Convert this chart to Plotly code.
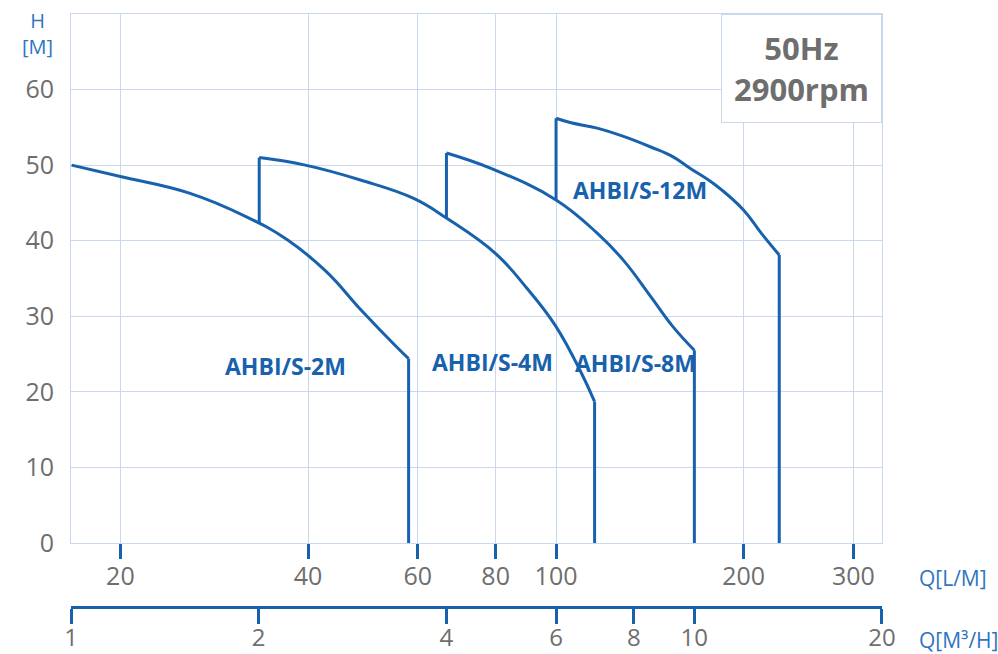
import math
import plotly.graph_objects as go

# ---- data (Q in L/min, H in m) ----
# curve points of each pump, from the top-left start to the right-hand end
q_2m = [16.7, 20.0, 25.8, 31.8, 37.1, 42.8, 48.7, 55.4, 58.0]
h_2m = [50.0, 48.5, 46.3, 43.2, 40.1, 35.9, 30.8, 26.0, 24.4]

q_4m = [33.4, 39.6, 48.7, 59.1, 66.7, 80.0, 89.8, 99.7, 109.8, 115.3]
h_4m = [51.0, 50.0, 48.0, 45.6, 43.0, 38.3, 33.7, 28.8, 22.5, 18.7]

q_8m = [66.7, 79.0, 100.0, 116.4, 128.3, 141.9, 154.1, 166.7]
h_8m = [51.6, 49.5, 45.4, 41.0, 37.4, 32.6, 28.6, 25.5]

q_12m = [100.0, 105.7, 116.4, 128.3, 141.9, 154.1, 164.0, 180.0, 199.7, 213.4, 228.1]
h_12m = [56.2, 55.6, 54.9, 53.8, 52.4, 51.1, 49.6, 47.4, 44.1, 41.0, 38.1]

# head at which each curve's left-hand vertical edge starts (on the previous curve)
riser_from_h = [None, 42.3, 43.0, 45.4]

series_names = ["AHBI/S-2M", "AHBI/S-4M", "AHBI/S-8M", "AHBI/S-12M"]
label_q = [36.8, 79.0, 134.0, 136.5]
label_h = [23.4, 24.0, 23.8, 46.7]

lpm_ticks = [20, 40, 60, 80, 100, 200, 300]
m3h_ticks = [1, 2, 4, 6, 8, 10, 20]
h_ticks = [0, 10, 20, 30, 40, 50, 60]

LPM_PER_M3H = 1000 / 60
q_min_m3h, q_max_m3h = 1, 20
h_max = 70

CURVE = "#1761ad"
GRID = "#c9d7ef"
GRAY = "#6e6e6e"
LBLUE = "#2f74c0"
FONT = "Open Sans"

fig = go.Figure()
line = dict(color=CURVE, width=3)
for q, h, r in zip([q_2m, q_4m, q_8m, q_12m], [h_2m, h_4m, h_8m, h_12m], riser_from_h):
    fig.add_trace(go.Scatter(x=q, y=h, mode="lines", line=dict(line, shape="spline", smoothing=1.2),
                             showlegend=False, hoverinfo="x+y"))
    if r is not None:
        fig.add_trace(go.Scatter(x=[q[0], q[0]], y=[r, h[0]], mode="lines", line=line,
                                 showlegend=False, hoverinfo="skip"))
    fig.add_trace(go.Scatter(x=[q[-1], q[-1]], y=[h[-1], 0], mode="lines", line=line,
                             showlegend=False, hoverinfo="skip"))

# same 12M curve expressed in m3/h so the secondary flow axis is drawn
fig.add_trace(go.Scatter(x=[v / LPM_PER_M3H for v in q_12m], y=h_12m, xaxis="x2", mode="lines",
                         line=dict(width=0), opacity=0, showlegend=False, hoverinfo="skip"))

for name, x, y in zip(series_names, label_q, label_h):
    fig.add_annotation(x=math.log10(x), y=y, text=f"<b>{name}</b>", showarrow=False,
                       font=dict(family=FONT, size=23, color=CURVE))

eps = 1e-4
fig.update_layout(
    width=998, height=654,
    margin=dict(l=71, r=116, t=14, b=47, autoexpand=False),
    paper_bgcolor="white", plot_bgcolor="white",
    font=dict(family=FONT, color=GRAY),
    xaxis=dict(
        type="log", automargin=False,
        range=[math.log10(q_min_m3h * LPM_PER_M3H) - eps, math.log10(q_max_m3h * LPM_PER_M3H) + eps],
        tickvals=lpm_ticks, ticktext=[str(t) for t in lpm_ticks],
        ticks="outside", ticklen=15, tickwidth=2.5, tickcolor=CURVE,
        showgrid=True, gridcolor=GRID, gridwidth=1,
        showline=True, linecolor=GRID, linewidth=1, mirror=True,
        tickfont=dict(size=25, color=GRAY), ticklabelstandoff=-4,
        zeroline=False,
    ),
    xaxis2=dict(
        type="log", overlaying="x", anchor="free", position=0, side="bottom", automargin=False,
        range=[math.log10(q_min_m3h) - eps, math.log10(q_max_m3h) + eps],
        tickvals=m3h_ticks, ticktext=[str(t) for t in m3h_ticks],
        ticks="outside", ticklen=15, tickwidth=2.5, tickcolor=CURVE,
        showgrid=False, showline=True, linecolor=CURVE, linewidth=3,
        tickfont=dict(size=24, color=GRAY), ticklabelstandoff=-7,
        zeroline=False,
    ),
    yaxis=dict(
        domain=[(607 - 543) / 593, 1], range=[0, h_max], automargin=False,
        tickvals=h_ticks, ticks="",
        showgrid=True, gridcolor=GRID, gridwidth=1,
        showline=True, linecolor=GRID, linewidth=1, mirror=True,
        tickfont=dict(size=25, color=GRAY), ticklabelstandoff=11,
        zeroline=False,
    ),
)

# info box
fig.add_annotation(x=1, y=1, xref="x domain", yref="y domain", xanchor="right", yanchor="top",
                   text="<b>50Hz</b><br><b>2900rpm</b>", showarrow=False,
                   font=dict(family=FONT, size=31, color=GRAY),
                   bgcolor="white", bordercolor=GRID, borderwidth=1, borderpad=0,
                   width=159, height=107, align="center")

# axis titles
fig.add_annotation(x=-0.0407, y=0.967, xref="paper", yref="paper", xanchor="center", yanchor="middle",
                   text="H<br>[M]", showarrow=False, align="center",
                   font=dict(family=FONT, size=20, color=LBLUE))
fig.add_annotation(x=1.043, y=0.049, xref="paper", yref="paper", xanchor="left", yanchor="middle",
                   text="Q[L/M]", showarrow=False, font=dict(family=FONT, size=21, color=LBLUE))
fig.add_annotation(x=1.043, y=-0.056, xref="paper", yref="paper", xanchor="left", yanchor="middle",
                   text="Q[M³/H]", showarrow=False, font=dict(family=FONT, size=21, color=LBLUE))

fig.write_html("out.html", config={"displayModeBar": False},
               post_script="document.body.style.margin='0';")
